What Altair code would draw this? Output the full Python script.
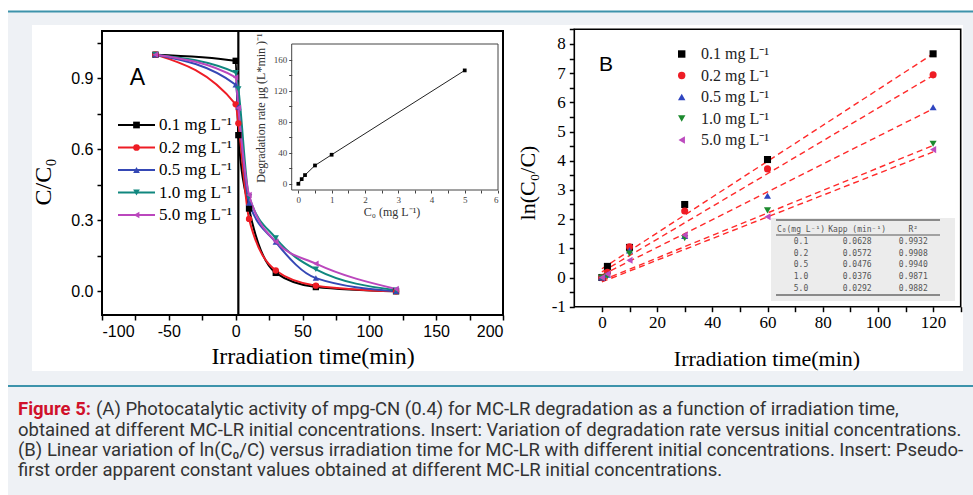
import altair as alt
import pandas as pd

W, H = 973, 495

# ---------------- data ----------------
series = ["0.1 mg L⁻¹", "0.2 mg L⁻¹", "0.5 mg L⁻¹", "1.0 mg L⁻¹", "5.0 mg L⁻¹"]
colors_a = ["#000000", "#ee1c25", "#3548b5", "#10877f", "#bb47bd"]
colors_b = ["#000000", "#ee1c25", "#2f45c0", "#1c8a2e", "#bd4cbf"]
shapes = ["square", "circle", "triangle-up", "triangle-down", "triangle-left"]

# Panel A: C/C0 vs irradiation time
time_a = [-60, 0, 2, 10, 30, 60, 120]
a_01 = [1.0, 0.974, 0.66, 0.35, 0.078, 0.018, 0.0]
a_02 = [1.0, 0.79, 0.71, 0.306, 0.088, 0.024, 0.0]
a_05 = [1.0, 0.873, 0.78, 0.373, 0.208, 0.056, 0.0]
a_10 = [1.0, 0.924, 0.855, 0.40, 0.225, 0.093, 0.005]
a_50 = [1.0, 0.904, 0.775, 0.407, 0.21, 0.117, 0.01]
vline_t = [2]

# Inset A: degradation rate vs C0
inset_c0 = [0.0, 0.1, 0.2, 0.5, 1.0, 5.0]
inset_rate = [0.0, 6.0, 11.2, 23.6, 37.4, 146.0]

# Panel B: ln(C0/C) vs time
time_b = [0, 2, 10, 30, 60, 120]
b_01 = [0.0, 0.38, 1.03, 2.50, 4.04, 7.66]
b_02 = [0.0, 0.18, 1.05, 2.28, 3.72, 6.94]
b_05 = [0.0, 0.10, 0.93, 1.42, 2.80, 5.83]
b_10 = [0.0, 0.05, 0.82, 1.35, 2.30, 4.58]
b_50 = [0.0, 0.12, 0.59, 1.45, 2.08, 4.38]
fit_t = [0, 120]
fit_start = [0.30, 0.19, 0.08, -0.10, -0.15]
fit_end = [7.66, 6.92, 5.78, 4.52, 4.30]

# Inset table of panel B
tab_header = ["C₀(mg L⁻¹)", "Kapp (min⁻¹)", "R²"]
tab_c0 = ["0.1", "0.2", "0.5", "1.0", "5.0"]
tab_kapp = ["0.0628", "0.0572", "0.0476", "0.0376", "0.0292"]
tab_r2 = ["0.9932", "0.9908", "0.9940", "0.9871", "0.9882"]

caption_head = "Figure 5:"
caption_lines = [
    "(A) Photocatalytic activity of mpg-CN (0.4) for MC-LR degradation as a function of irradiation time,",
    "obtained at different MC-LR initial concentrations. Insert: Variation of degradation rate versus initial concentrations.",
    "(B) Linear variation of ln(C₀/C) versus irradiation time for MC-LR with different initial concentrations. Insert: Pseudo-",
    "first order apparent constant values obtained at different MC-LR initial concentrations.",
]

# ---------------- tables ----------------
rows = []
for s, vals in zip(series, [a_01, a_02, a_05, a_10, a_50]):
    for t, v in zip(time_a, vals):
        rows.append({"series": s, "t": t, "v": v})
df_a = pd.DataFrame(rows)

rows = []
for s, vals in zip(series, [b_01, b_02, b_05, b_10, b_50]):
    for t, v in zip(time_b, vals):
        rows.append({"series": s, "t": t, "v": v})
df_b = pd.DataFrame(rows)

rows = []
for s, v0, v1 in zip(series, fit_start, fit_end):
    rows.append({"series": s, "t": fit_t[0], "v": v0})
    rows.append({"series": s, "t": fit_t[1], "v": v1})
df_fit = pd.DataFrame(rows)

df_inset = pd.DataFrame({"c0": inset_c0, "rate": inset_rate})
df_leg = pd.DataFrame({"series": series, "i": list(range(len(series)))})

rows = [{"col": j, "row": 0, "txt": h} for j, h in enumerate(tab_header)]
for r, (a, b, c) in enumerate(zip(tab_c0, tab_kapp, tab_r2), start=1):
    rows += [{"col": 0, "row": r, "txt": a}, {"col": 1, "row": r, "txt": b}, {"col": 2, "row": r, "txt": c}]
df_tab = pd.DataFrame(rows)

one = pd.DataFrame({"k": [0]})

# ---------------- geometry (pixel ranges) ----------------
A_XD, A_XR = [-100, 200], [102, 503]
A_YD, A_YR = [-0.1, 1.1], [315, 31]
I_XD, I_XR = [-0.2, 6], [291.7, 498]
I_YD, I_YR = [-8, 180], [190, 44]
B_XD, B_XR = [-10, 130], [574.3, 960.7]
B_YD, B_YR = [-1, 8.5], [306.7, 29.3]


def qs(d, r):
    return alt.Scale(domain=d, range=r, nice=False, zero=False)


col_a = alt.Scale(domain=series, range=colors_a)
col_b = alt.Scale(domain=series, range=colors_b)
shp = alt.Scale(domain=series, range=shapes)

SERIF = "Liberation Serif"
SANS = "Liberation Sans"
CAP_FONT = "Roboto"
CAP_SIZE = 18.5

# labels with an ASCII hyphen as minus sign
INT_LABEL = "(datum.value < 0 ? '-' : '') + format(abs(datum.value), 'd')"


def box(x, x2, y, y2, color):
    return alt.Chart(one).mark_rect(color=color).encode(
        x=alt.value(x), x2=alt.value(x2), y=alt.value(y), y2=alt.value(y2))


def hline(x, x2, y, color, w):
    return alt.Chart(one).mark_rule(color=color, strokeWidth=w).encode(
        x=alt.value(x), x2=alt.value(x2), y=alt.value(y))


def label(txt, x, y, **kw):
    return alt.Chart(one).mark_text(text=txt, **kw).encode(x=alt.value(x), y=alt.value(y))


def axis(orient, offset, values, expr, font, size, tick, color="black", tw=1.5, pad=3):
    return alt.Axis(orient=orient, offset=offset, values=values, labelExpr=expr,
                    domain=False, grid=False, tickSize=tick, tickWidth=tw, tickColor=color,
                    labelFont=font, labelFontSize=size, labelColor=color, labelPadding=pad,
                    title=None, zindex=2, labelOverlap=False)


layers = []
# backgrounds
layers.append(box(8, W, 12, H, "#eef1f5"))
layers.append(hline(8, W, 11.5, "#3d93ab", 2))
layers.append(box(32, 963, 25, 371, "#ffffff"))
layers.append(hline(8, W, 386, "#3d93ab", 2))

# ---------- Panel A ----------
frame_a = alt.Chart(pd.DataFrame({"x0": [A_XD[0]], "x1": [A_XD[1]], "y0": [A_YD[0]], "y1": [A_YD[1]]})).mark_rect(
    fillOpacity=0, stroke="black", strokeWidth=2).encode(
    x=alt.X("x0:Q", scale=qs(A_XD, A_XR), axis=axis(
        "bottom", A_YR[0] - H, list(range(-100, 201, 25)),
        "datum.value % 50 === 0 ? " + INT_LABEL + " : ''", SANS, 16, 5, pad=3)),
    x2="x1:Q",
    y=alt.Y("y0:Q", scale=qs(A_YD, A_YR), axis=axis(
        "left", -A_XR[0], [round(0.15 * k, 2) for k in range(8)],
        "abs(round(datum.value * 100)) % 30 === 0 ? format(datum.value, '.1f') : ''", SANS, 16, 5, pad=4)),
    y2="y1:Q",
)
layers.append(frame_a)

vline = alt.Chart(pd.DataFrame({"t": vline_t, "y0": [A_YD[0]], "y1": [A_YD[1]]})).mark_rule(
    color="black", strokeWidth=2.2).encode(
    x=alt.X("t:Q", scale=qs(A_XD, A_XR), axis=None),
    y=alt.Y("y0:Q", scale=qs(A_YD, A_YR), axis=None), y2="y1:Q")
layers.append(vline)

lines_a = alt.Chart(df_a).mark_line(strokeWidth=2, interpolate="monotone").encode(
    x=alt.X("t:Q", scale=qs(A_XD, A_XR), axis=None),
    y=alt.Y("v:Q", scale=qs(A_YD, A_YR), axis=None),
    color=alt.Color("series:N", scale=col_a, legend=None))
pts_a = alt.Chart(df_a).mark_point(filled=True, size=40, opacity=1).encode(
    x=alt.X("t:Q", scale=qs(A_XD, A_XR), axis=None),
    y=alt.Y("v:Q", scale=qs(A_YD, A_YR), axis=None),
    color=alt.Color("series:N", scale=col_a, legend=None),
    shape=alt.Shape("series:N", scale=shp, legend=None))
layers += [lines_a, pts_a]

# legend A
leg_y_a = alt.Y("i:Q", scale=qs([0, 4], [125, 215]), axis=None)
layers.append(alt.Chart(df_leg).mark_rule(strokeWidth=2).encode(
    x=alt.value(118), x2=alt.value(155), y=leg_y_a,
    color=alt.Color("series:N", scale=col_a, legend=None)))
layers.append(alt.Chart(df_leg).mark_point(filled=True, size=45, opacity=1).encode(
    x=alt.value(136.5), y=leg_y_a,
    color=alt.Color("series:N", scale=col_a, legend=None),
    shape=alt.Shape("series:N", scale=shp, legend=None)))
layers.append(alt.Chart(df_leg).mark_text(align="left", baseline="middle", font=SERIF, fontSize=17,
                                          color="black").encode(
    x=alt.value(159), y=leg_y_a, text="series:N"))

layers.append(label("A", 137.5, 78, font=SANS, fontSize=23, align="center", baseline="middle", color="black"))
layers.append(label("Irradiation time(min)", 313, 357, font=SERIF, fontSize=24, align="center",
                    baseline="middle", color="black"))
layers.append(label("C/C₀", 44, 182, font=SERIF, fontSize=24, align="center", baseline="middle",
                    angle=270, color="black"))

# ---------- Inset A ----------
frame_i = alt.Chart(pd.DataFrame({"x0": [I_XD[0]], "x1": [I_XD[1]], "y0": [I_YD[0]], "y1": [I_YD[1]]})).mark_rect(
    fillOpacity=0, stroke="#444444", strokeWidth=1).encode(
    x=alt.X("x0:Q", scale=qs(I_XD, I_XR), axis=axis(
        "bottom", I_YR[0] - H, [0.5 * k for k in range(13)],
        "datum.value % 1 === 0 ? format(datum.value, 'd') : ''", SERIF, 9, 3, color="#444444", tw=1, pad=2)),
    x2="x1:Q",
    y=alt.Y("y0:Q", scale=qs(I_YD, I_YR), axis=axis(
        "left", -I_XR[0], list(range(0, 161, 20)),
        "datum.value % 40 === 0 ? format(datum.value, 'd') : ''", SERIF, 9, 3, color="#444444", tw=1, pad=2)),
    y2="y1:Q",
)
layers.append(frame_i)
layers.append(alt.Chart(df_inset).mark_line(color="#222222", strokeWidth=1).encode(
    x=alt.X("c0:Q", scale=qs(I_XD, I_XR), axis=None),
    y=alt.Y("rate:Q", scale=qs(I_YD, I_YR), axis=None)))
layers.append(alt.Chart(df_inset).mark_point(shape="square", filled=True, size=14, color="black", opacity=1).encode(
    x=alt.X("c0:Q", scale=qs(I_XD, I_XR), axis=None),
    y=alt.Y("rate:Q", scale=qs(I_YD, I_YR), axis=None)))
layers.append(label("C₀ (mg L⁻¹)", 392, 212, font=SERIF, fontSize=12, align="center", baseline="middle",
                    color="#333333"))
layers.append(label("Degradation rate μg (L*min )⁻¹", 261, 108, font=SERIF, fontSize=12, align="center",
                    baseline="middle", angle=270, color="#333333"))

# ---------- Panel B ----------
frame_b = alt.Chart(pd.DataFrame({"x0": [B_XD[0]], "x1": [B_XD[1]], "y0": [B_YD[0]], "y1": [B_YD[1]]})).mark_rect(
    fillOpacity=0, stroke="black", strokeWidth=1.6).encode(
    x=alt.X("x0:Q", scale=qs(B_XD, B_XR), axis=axis(
        "bottom", B_YR[0] - H, list(range(0, 131, 10)),
        "datum.value % 20 === 0 ? " + INT_LABEL + " : ''", SERIF, 17, 5, pad=3)),
    x2="x1:Q",
    y=alt.Y("y0:Q", scale=qs(B_YD, B_YR), axis=axis(
        "left", -B_XR[0], [-1 + 0.5 * k for k in range(20)],
        "datum.value % 1 === 0 ? " + INT_LABEL + " : ''", SERIF, 17, 5, pad=4)),
    y2="y1:Q",
)
layers.append(frame_b)

layers.append(alt.Chart(df_fit).mark_line(color="#ff2a2a", strokeWidth=1.4, strokeDash=[6, 4]).encode(
    x=alt.X("t:Q", scale=qs(B_XD, B_XR), axis=None),
    y=alt.Y("v:Q", scale=qs(B_YD, B_YR), axis=None),
    detail="series:N"))
layers.append(alt.Chart(df_b).mark_point(filled=True, size=50, opacity=1).encode(
    x=alt.X("t:Q", scale=qs(B_XD, B_XR), axis=None),
    y=alt.Y("v:Q", scale=qs(B_YD, B_YR), axis=None),
    color=alt.Color("series:N", scale=col_b, legend=None),
    shape=alt.Shape("series:N", scale=shp, legend=None)))

# legend B
leg_y_b = alt.Y("i:Q", scale=qs([0, 4], [54, 140]), axis=None)
layers.append(alt.Chart(df_leg).mark_point(filled=True, size=55, opacity=1).encode(
    x=alt.value(681.7), y=leg_y_b,
    color=alt.Color("series:N", scale=col_b, legend=None),
    shape=alt.Shape("series:N", scale=shp, legend=None)))
layers.append(alt.Chart(df_leg).mark_text(align="left", baseline="middle", font=SERIF, fontSize=16,
                                          color="#222222").encode(
    x=alt.value(701), y=leg_y_b, text="series:N"))

layers.append(label("B", 606, 65, font=SANS, fontSize=21, align="center", baseline="middle", color="black"))
layers.append(label("Irradiation time(min)", 767, 359, font=SERIF, fontSize=22, align="center",
                    baseline="middle", color="black"))
layers.append(label("ln(C₀/C)", 528, 183, font=SERIF, fontSize=22, align="center", baseline="middle",
                    angle=270, color="black"))

# table inset
layers.append(box(771, 955, 218, 301, "#ececec"))
layers.append(hline(776, 940, 220, "#8a8a8a", 2))
layers.append(hline(776, 940, 235, "#8a8a8a", 1.5))
layers.append(hline(776, 940, 295, "#8a8a8a", 2))
layers.append(alt.Chart(df_tab).mark_text(align="center", baseline="middle", font="DejaVu Sans Mono",
                                          fontSize=8, color="#555555").encode(
    x=alt.X("col:Q", scale=qs([0, 2], [801, 913.3]), axis=None),
    y=alt.Y("row:Q", scale=qs([1, 5], [241.7, 289]), axis=None),
    text="txt:N"))

# ---------- caption ----------
cap_y = [409, 429.5, 450, 470]
layers.append(label(caption_head, 18, cap_y[0], font=CAP_FONT, fontSize=CAP_SIZE, fontWeight="bold",
                    align="left", baseline="middle", color="#d0112b"))
layers.append(label(caption_lines[0], 96, cap_y[0], font=CAP_FONT, fontSize=CAP_SIZE, align="left",
                    baseline="middle", color="#333333"))
for txt, yy in zip(caption_lines[1:], cap_y[1:]):
    layers.append(label(txt, 18, yy, font=CAP_FONT, fontSize=CAP_SIZE, align="left", baseline="middle",
                        color="#333333"))

chart = alt.layer(*layers).resolve_scale(
    x="independent", y="independent", color="independent", shape="independent"
).properties(
    width=W, height=H, padding=0, autosize=alt.AutoSizeParams(type="none"), background="#ffffff"
).configure_view(stroke=None)

chart.save("out.html", embed_options={"renderer": "svg", "actions": False})
